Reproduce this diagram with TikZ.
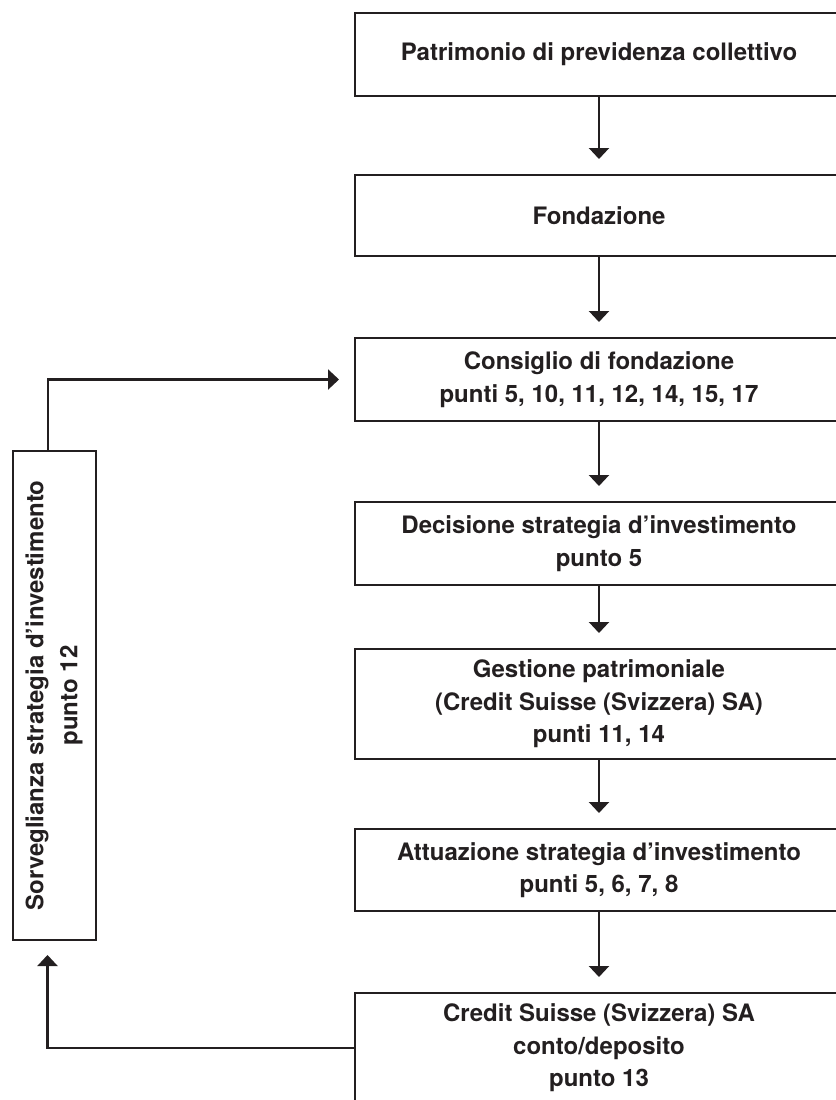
\documentclass[tikz,border=0pt]{standalone}
\usepackage{fontspec}
\setmainfont{TeX Gyre Heros}
\usepackage{tikz}
\usetikzlibrary{arrows.meta}
\definecolor{ink}{HTML}{231F20}
\tikzset{
	stepbox/.style={draw=ink, line width=1pt, align=center, inner sep=2pt},
	arr/.style={draw=ink, line width=1.1pt, -{Triangle[length=5.5pt, width=10pt]}, shorten >=7.5pt}
}

\begin{document}
\begin{tikzpicture}[x=0.5pt, y=-0.5pt, every node/.style={font=\fontsize{12}{16.25}\selectfont\bfseries, text=ink}]
	\useasboundingbox (0,0) rectangle (836,1100);
	\clip (0,0) rectangle (836,1100);
	\foreach \y/\h/\nm/\txt in {54.5/41.5/patr/{Patrimonio di previdenza collettivo}, 215.5/40.5/fond/{Fondazione}, 379.5/41.5/cons/{Consiglio di fondazione\\punti 5, 10, 11, 12, 14, 15, 17}, 543.5/41.5/deci/{Decisione strategia d’investimento\\punto 5}, 704/55/gest/{Gestione patrimoniale\\(Credit Suisse (Svizzera) SA)\\punti 11, 14}, 870/41/attu/{Attuazione strategia d’investimento\\punti 5, 6, 7, 8}, 1048/55/cred/{Credit Suisse (Svizzera) SA\\conto/deposito\\punto 13}} {
		\node[stepbox, minimum width=244pt, minimum height=\h pt] (\nm) at (599,\y) {\txt};
	}
	\node[stepbox, rotate=90, minimum width=244.5pt, minimum height=41.5pt, font=\fontsize{12}{17}\selectfont\bfseries] (sorv) at (54,695.5) {Sorveglianza strategia d’investimento\\punto 12};
	\foreach \a/\b in {patr/fond, fond/cons, cons/deci, deci/gest, gest/attu, attu/cred} {
		\draw[arr] (\a) -- (\b);
	}
	\draw[arr] ([xshift=-3pt]sorv.east) |- (cons.west);
	\draw[arr, shorten >=7pt] (cred.west) -| ([xshift=-3.25pt]sorv.west);
\end{tikzpicture}
\end{document}
